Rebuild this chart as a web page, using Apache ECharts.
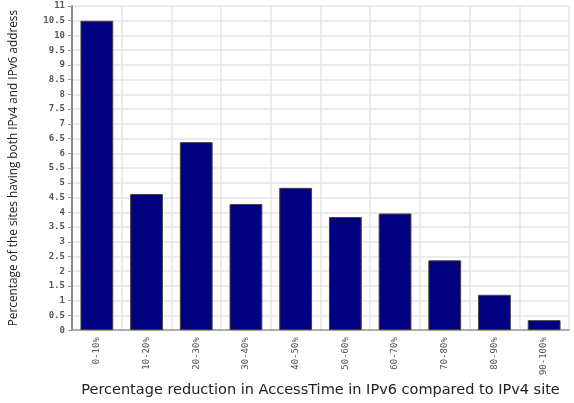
<!DOCTYPE html>
<html><head><meta charset="utf-8">
<script src="https://cdn.jsdelivr.net/npm/echarts@6/dist/echarts.min.js"></script>
<style>html,body{margin:0;padding:0;background:#fff}#c{width:574px;height:403px}</style>
</head><body><div id="c"></div>
<script>
const categories = ["0-10%","10-20%","20-30%","30-40%","40-50%","50-60%","60-70%","70-80%","80-90%","90-100%"];
const values = [10.5, 4.62, 6.38, 4.28, 4.83, 3.84, 3.96, 2.37, 1.2, 0.34];
const yTitle = "Percentage of the sites having both IPv4 and IPv6 address";
const xTitle = "Percentage reduction in AccessTime in IPv6 compared to IPv4 site";

const chart = echarts.init(document.getElementById('c'), null, {renderer:'canvas'});
chart.setOption({
  animation: false,
  grid: {left: 72, right: 5, top: 6, bottom: 64, containLabel: false},
  xAxis: {
    type: 'category', data: categories, boundaryGap: true,
    axisLine: {lineStyle: {color: '#999', width: 1.5}},
    axisTick: {show: false},
    splitLine: {show: true, lineStyle: {color: '#e6e6e6', width: 1.5}},
    axisLabel: {rotate: 90, fontSize: 9, color: '#555', fontFamily: 'DejaVu Sans Mono', margin: 7, interval: 0},
    name: xTitle, nameLocation: 'middle', nameGap: 50,
    nameTextStyle: {fontSize: 14.5, color: '#222', fontFamily: 'DejaVu Sans'}
  },
  yAxis: {
    type: 'value', min: 0, max: 11, interval: 0.5,
    axisLine: {show: true, lineStyle: {color: '#888', width: 2}},
    axisTick: {show: true, length: 4, lineStyle: {color: '#999'}},
    splitLine: {show: true, lineStyle: {color: '#e6e6e6', width: 1.5}},
    axisLabel: {fontSize: 9, color: '#555', fontFamily: 'DejaVu Sans Mono', fontWeight: 'bold', margin: 7},
    name: yTitle, nameLocation: 'middle', nameGap: 52, nameRotate: 90,
    nameTextStyle: {fontSize: 11.8, color: '#222', fontFamily: 'Open Sans'}
  },
  series: [{
    type: 'bar', data: values, barWidth: '66%',
    itemStyle: {color: '#000080', borderColor: '#444', borderWidth: 1}
  }]
});
</script></body></html>
